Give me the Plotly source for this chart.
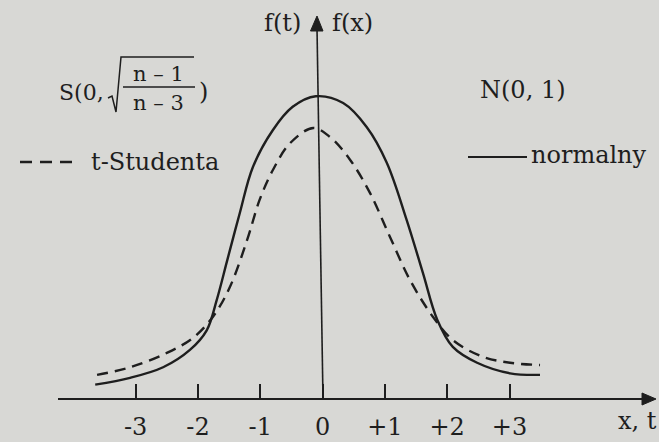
import plotly.graph_objects as go

W, H = 659, 442

# Curve samples: argument t (or x) and density height, in axis units
t_normal = [-3.65, -3.09, -2.56, -2.13, -1.86, -1.70, -1.53, -1.33, -1.12, -0.80,
            -0.48, -0.11, 0.33, 0.71, 1.03, 1.35, 1.61, 1.84, 2.09, 2.48, 3.01, 3.49]
f_normal = [0.019, 0.028, 0.042, 0.065, 0.091, 0.131, 0.184, 0.246, 0.307, 0.356,
            0.387, 0.401, 0.392, 0.360, 0.313, 0.237, 0.167, 0.105, 0.069, 0.048, 0.034, 0.032]

t_student = [-3.62, -3.09, -2.50, -2.08, -1.76, -1.49, -1.21, -1.01, -0.80, -0.52,
             -0.15, 0.12, 0.44, 0.76, 1.08, 1.40, 1.77, 2.09, 2.57, 3.01, 3.49]
f_student = [0.032, 0.042, 0.061, 0.081, 0.109, 0.148, 0.211, 0.264, 0.303, 0.339,
             0.359, 0.347, 0.317, 0.273, 0.215, 0.158, 0.109, 0.078, 0.056, 0.048, 0.045]

tick_vals = [-3, -2, -1, 0, 1, 2, 3]
tick_text = ["-3", "-2", "-1", "0", "+1", "+2", "+3"]

INK = "#1e1e1e"
PAPER = "#d8d8d5"
FONT = "DejaVu Serif"

# pixel -> paper helpers (figure has no margins)
def px(x):
    return x / W


def py(y):
    return 1 - y / H


# axis scale: origin pixel and pixels per unit
X0, XU = 322.6, 62.3
Y0, YU = 399.0, 755.0
x_lo, x_hi = 58, 643
x_range = [(x_lo - X0) / XU, (x_hi - X0) / XU]
y_range = [(Y0 - H) / YU, Y0 / YU]

fig = go.Figure()
fig.add_trace(go.Scatter(
    x=t_normal, y=f_normal, mode="lines", name="normalny",
    line=dict(color=INK, width=2.4, shape="spline", smoothing=1.0),
    showlegend=False, hoverinfo="skip"))
fig.add_trace(go.Scatter(
    x=t_student, y=f_student, mode="lines", name="t-Studenta",
    line=dict(color=INK, width=2.4, shape="spline", smoothing=1.0, dash="11px,7px"),
    showlegend=False, hoverinfo="skip"))

shapes = []
# vertical f axis with arrowhead
shapes.append(dict(type="line", xref="paper", yref="paper",
                   x0=px(323), y0=py(399), x1=px(317), y1=py(28),
                   line=dict(color=INK, width=1.6)))
shapes.append(dict(type="path", xref="paper", yref="paper",
                   path=f"M {px(317)},{py(16)} L {px(310.5)},{py(31)} L {px(323)},{py(31)} Z",
                   fillcolor=INK, line=dict(color=INK, width=1)))
# arrowhead of the horizontal axis
shapes.append(dict(type="path", xref="paper", yref="paper",
                   path=f"M {px(656)},{py(399)} L {px(642)},{py(393)} L {px(642)},{py(405)} Z",
                   fillcolor=INK, line=dict(color=INK, width=1)))
# legend samples
shapes.append(dict(type="line", xref="paper", yref="paper",
                   x0=px(20), y0=py(162), x1=px(78), y1=py(162),
                   line=dict(color=INK, width=2.4, dash="12px,8px")))
shapes.append(dict(type="line", xref="paper", yref="paper",
                   x0=px(468), y0=py(157), x1=px(527), y1=py(157),
                   line=dict(color=INK, width=2.2)))
# radical sign and fraction bar of the S(...) label
shapes.append(dict(type="path", xref="paper", yref="paper",
                   path=(f"M {px(108)},{py(98)} L {px(112)},{py(96)} L {px(116)},{py(112)} "
                         f"L {px(121)},{py(57)} L {px(194)},{py(57)}"),
                   line=dict(color=INK, width=1.5)))
shapes.append(dict(type="line", xref="paper", yref="paper",
                   x0=px(123), y0=py(87), x1=px(195), y1=py(87),
                   line=dict(color=INK, width=1.5)))


def label(text, x, y, size=24, anchor="center"):
    return dict(text=text, x=px(x), y=py(y), xref="paper", yref="paper",
                xanchor=anchor, yanchor="middle", showarrow=False,
                font=dict(family=FONT, size=size, color=INK))


annotations = [
    label("f(t)", 282, 23),
    label("f(x)", 352, 23),
    label("S(0,", 57, 92, size=22, anchor="left"),
    label("n – 1", 158, 74, size=21),
    label("n – 3", 158, 103, size=21),
    label(")", 203, 92),
    label("N(0, 1)", 523, 90),
    label("t-Studenta", 89, 162, anchor="left"),
    label("normalny", 529, 155, anchor="left"),
    label("x, t", 637, 421),
]

fig.update_layout(
    width=W, height=H,
    margin=dict(l=0, r=0, t=0, b=0),
    paper_bgcolor=PAPER, plot_bgcolor=PAPER,
    shapes=shapes, annotations=annotations,
    xaxis=dict(domain=[px(x_lo), px(x_hi)], range=x_range,
               anchor="free", position=1 - Y0 / H,
               showline=True, linecolor=INK, linewidth=1.8,
               ticks="inside", ticklen=14, tickwidth=1.5, tickcolor=INK,
               tickvals=tick_vals, ticktext=tick_text,
               tickfont=dict(family=FONT, size=24, color=INK),
               ticklabelstandoff=6,
               showgrid=False, zeroline=False, fixedrange=True),
    yaxis=dict(domain=[0, 1], range=y_range, visible=False,
               showgrid=False, zeroline=False, fixedrange=True),
    showlegend=False,
)

fig.write_html("out.html")
